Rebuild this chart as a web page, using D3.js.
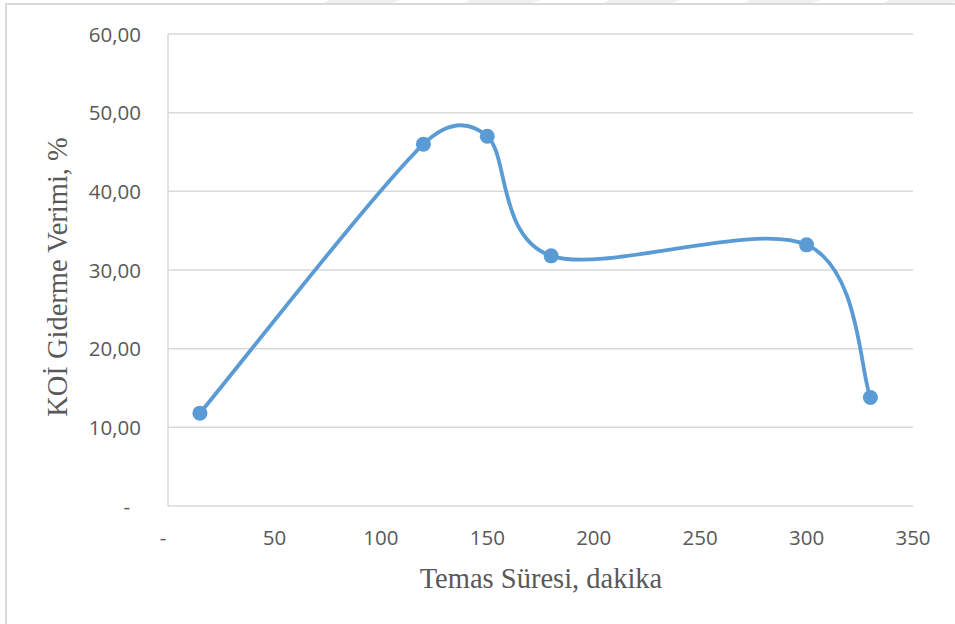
<!DOCTYPE html>
<html>
<head>
<meta charset="utf-8">
<script src="https://cdn.jsdelivr.net/npm/d3@7"></script>
<style>
  body { margin: 0; background: #fff; }
  svg { display: block; }
</style>
</head>
<body>
<div id="chart"></div>
<script>
// data
const sure = [15, 120, 150, 180, 300, 330];        // Temas Süresi, dakika
const verim = [11.8, 46.0, 47.0, 31.8, 33.2, 13.8]; // KOİ Giderme Verimi, %
const xTicks = [0, 50, 100, 150, 200, 250, 300, 350];
const yTicks = [0, 10, 20, 30, 40, 50, 60];

const width = 955, height = 624;
const margin = { left: 168, right: 42, top: 34, bottom: 118 };

const svg = d3.select("#chart").append("svg")
    .attr("width", width)
    .attr("height", height);

// faint watermark shapes at the very top
const wm = svg.append("g").attr("fill", "#f0f0f0");
[330, 470, 610, 750, 890].forEach(x0 => {
    wm.append("path").attr("d", `M${x0},0 L${x0 + 70},0 L${x0 + 60},4 L${x0 - 8},4 Z`);
});

// chart frame (only top and left visible)
svg.append("path")
    .attr("d", "M6,624 L6,4 L955,4")
    .attr("fill", "none")
    .attr("stroke", "#d9d9d9")
    .attr("stroke-width", 2);

const x = d3.scaleLinear()
    .domain([0, 350])
    .range([margin.left, width - margin.right]);

const y = d3.scaleLinear()
    .domain([0, 60])
    .range([height - margin.bottom, margin.top]);

const fmt = v => v === 0 ? "-" : d3.format(".2f")(v).replace(".", ",");

// gridlines
svg.append("g")
    .selectAll("line")
    .data(yTicks)
    .join("line")
    .attr("x1", x(0))
    .attr("x2", x(350))
    .attr("y1", d => y(d))
    .attr("y2", d => y(d))
    .attr("stroke", "#d9d9d9")
    .attr("stroke-width", 1.5);

// left axis line
svg.append("line")
    .attr("x1", x(0)).attr("x2", x(0))
    .attr("y1", y(0)).attr("y2", y(60))
    .attr("stroke", "#d9d9d9")
    .attr("stroke-width", 1.5);

// y tick labels
svg.append("g")
    .attr("font-family", "'Open Sans', 'Noto Sans', sans-serif")
    .attr("font-size", 20.5)
    .attr("fill", "#595959")
    .attr("text-anchor", "end")
    .selectAll("text")
    .data(yTicks)
    .join("text")
    .attr("x", d => d === 0 ? 130 : 141)
    .attr("y", d => y(d) + 7.5)
    .text(fmt);

// x tick labels
svg.append("g")
    .attr("font-family", "'Open Sans', 'Noto Sans', sans-serif")
    .attr("font-size", 20.5)
    .attr("fill", "#595959")
    .attr("text-anchor", "middle")
    .selectAll("text")
    .data(xTicks)
    .join("text")
    .attr("x", d => d === 0 ? x(d) - 5 : x(d))
    .attr("y", 545)
    .text(d => d === 0 ? "-" : d);

// axis titles
svg.append("text")
    .attr("x", 541)
    .attr("y", 588)
    .attr("text-anchor", "middle")
    .attr("font-family", "'Liberation Serif', 'DejaVu Serif', serif")
    .attr("font-size", 28.5)
    .attr("fill", "#595959")
    .text("Temas Süresi, dakika");

svg.append("text")
    .attr("transform", "translate(67,277) rotate(-90)")
    .attr("text-anchor", "middle")
    .attr("font-family", "'Liberation Serif', 'DejaVu Serif', serif")
    .attr("font-size", 28.5)
    .attr("fill", "#595959")
    .text("KOİ Giderme Verimi, %");

// Excel-like smoothing: cardinal tangents, but control arms limited
// to a share of the segment length so short segments do not overshoot
function curveExcel(context) {
    let p = [];
    return {
        areaStart() {}, areaEnd() {},
        lineStart() { p = []; },
        point(px, py) { p.push([+px, +py]); },
        lineEnd() {
            const n = p.length;
            if (!n) return;
            context.moveTo(p[0][0], p[0][1]);
            const tan = p.map((d, i) => {
                const a = p[Math.max(i - 1, 0)], b = p[Math.min(i + 1, n - 1)];
                return [(b[0] - a[0]) / 6, (b[1] - a[1]) / 6];
            });
            const arm = (t, len) => {
                const tl = Math.hypot(t[0], t[1]);
                const s = tl > 0 ? Math.min(1, 0.45 * len / tl) : 0;
                return [t[0] * s, t[1] * s];
            };
            for (let i = 0; i < n - 1; i++) {
                const a = p[i], b = p[i + 1];
                const len = Math.hypot(b[0] - a[0], b[1] - a[1]);
                const t1 = arm(tan[i], len), t2 = arm(tan[i + 1], len);
                context.bezierCurveTo(a[0] + t1[0], a[1] + t1[1],
                    b[0] - t2[0], b[1] - t2[1], b[0], b[1]);
            }
        }
    };
}

const pts = sure.map((s, i) => [s, verim[i]]);
const line = d3.line()
    .x(d => x(d[0]))
    .y(d => y(d[1]))
    .curve(curveExcel);

svg.append("path")
    .datum(pts)
    .attr("d", line)
    .attr("fill", "none")
    .attr("stroke", "#5b9bd5")
    .attr("stroke-width", 3.8);

svg.append("g")
    .attr("fill", "#5b9bd5")
    .selectAll("circle")
    .data(pts)
    .join("circle")
    .attr("cx", d => x(d[0]))
    .attr("cy", d => y(d[1]))
    .attr("r", 7.5);
</script>
</body>
</html>
